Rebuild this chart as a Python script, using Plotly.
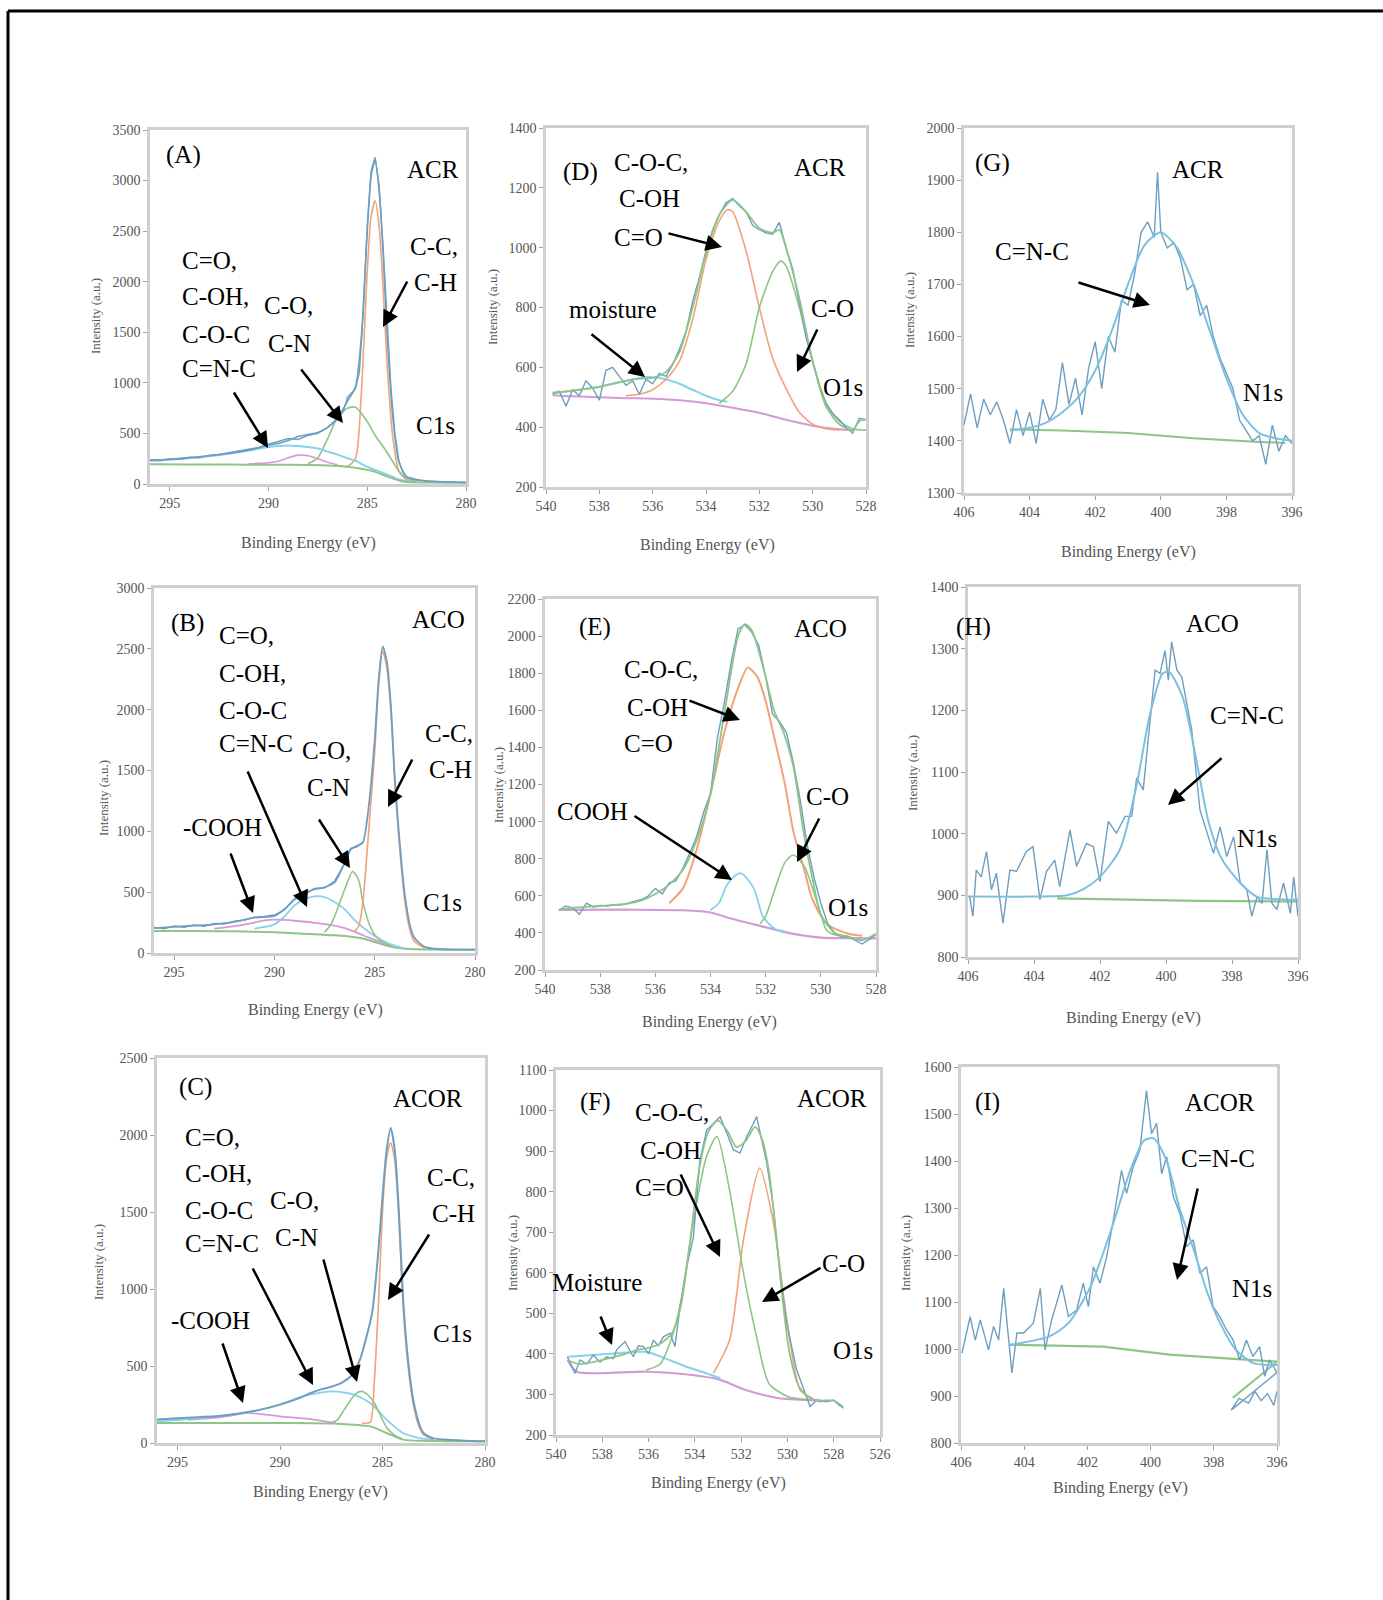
import plotly.graph_objects as go

W, H = 1383, 1600
FONT = "Liberation Serif, Times New Roman, serif"

RAW = "#6e9ec0"
ORANGE = "#f2a27a"
GREEN = "#8ec486"
CYAN = "#84d2ec"
PINK = "#d59ad6"
FITN = "#7cc0e0"

# ---------------- Panel A : C1s ACR ----------------
A_raw_x = [296, 295.5, 295, 294.5, 294, 293.5, 293, 292.5, 292, 291.5, 291, 290.5, 290, 289.5, 289, 288.5, 288,
           287.5, 287, 286.5, 286.2, 286, 285.8, 285.6, 285.4, 285.2, 285.0, 284.8, 284.6, 284.4, 284.2, 284.0,
           283.8, 283.6, 283.4, 283.2, 283.0, 282.5, 282, 281.5, 281, 280.5, 280]
A_raw_y = [240, 232, 250, 245, 265, 258, 285, 290, 310, 330, 345, 360, 395, 420, 450, 440, 480,
           500, 560, 650, 720, 860, 900, 940, 1100, 1700, 2550, 3100, 3230, 2950, 2350, 1600,
           950, 500, 230, 120, 70, 45, 30, 25, 20, 18, 15]
A_env_x = [296, 295, 294, 293, 292, 291, 290, 289.5, 289, 288.5, 288, 287.5, 287, 286.5, 286, 285.6, 285.3,
           285.0, 284.8, 284.6, 284.4, 284.2, 284.0, 283.7, 283.4, 283.0, 282.5, 282, 281, 280]
A_env_y = [235, 245, 262, 280, 305, 335, 385, 400, 430, 470, 490, 510, 560, 650, 820, 960, 1450,
           2500, 3050, 3200, 2900, 2300, 1500, 650, 220, 70, 40, 30, 20, 15]
A_cc_x = [286.5, 286, 285.6, 285.3, 285.0, 284.8, 284.6, 284.4, 284.2, 284.0, 283.7, 283.4, 283.0, 282.5]
A_cc_y = [180, 175, 250, 900, 2100, 2650, 2800, 2550, 1950, 1200, 450, 130, 40, 25]
A_co_x = [288, 287.5, 287, 286.5, 286, 285.6, 285.3, 285.0, 284.6, 284.2, 283.7, 283.4, 283.0, 282.5]
A_co_y = [200, 260, 450, 660, 750, 760, 700, 618, 480, 371, 220, 124, 60, 30]
A_cox_x = [296, 295, 294, 293, 292, 291, 290, 289.5, 289, 288.5, 288, 287.5, 287, 286.5, 286, 285.6, 285.3,
           285.0, 284.6, 284.2, 283.7, 283.4, 283.0, 282.5]
A_cox_y = [230, 240, 255, 275, 300, 330, 365, 375, 380, 375, 365, 350, 320, 290, 255, 230, 200,
           170, 140, 110, 70, 45, 30, 22]
A_pk_x = [291, 290, 289.5, 289, 288.5, 288, 287.5, 287, 286.5]
A_pk_y = [200, 210, 225, 260, 285, 280, 250, 215, 190]
A_bg_x = [296, 294, 292, 290, 288, 287, 286, 285.3, 284.6, 284.0, 283.4, 283.0, 282, 280]
A_bg_y = [195, 193, 192, 190, 188, 184, 170, 150, 120, 75, 35, 20, 15, 12]

# ---------------- Panel D : O1s ACR ----------------
D_raw_x = [539.75, 539.5, 539.25, 539.0, 538.75, 538.5, 538.25, 538.0, 537.75, 537.5, 537.25, 537.0, 536.75,
           536.5, 536.25, 536.0, 535.75, 535.5, 535.25, 535.0, 534.75, 534.5, 534.25, 534.0, 533.75, 533.5,
           533.25, 533.0, 532.75, 532.5, 532.25, 532.0, 531.75, 531.5, 531.25, 531.0, 530.75, 530.5, 530.25,
           530.0, 529.75, 529.5, 529.25, 529.0, 528.75, 528.5, 528.25, 528.0]
D_raw_y = [510, 520, 470, 525, 505, 555, 530, 490, 590, 600, 570, 540, 555,
           510, 560, 545, 580, 570, 610, 660, 720, 820, 900, 990, 1060, 1110,
           1150, 1165, 1140, 1120, 1075, 1060, 1050, 1045, 1085, 1000, 930, 820, 700,
           620, 540, 480, 445, 425, 400, 380, 430, 425]
D_env_x = [539.75, 539.5, 539, 538.5, 538, 537.5, 537, 536.5, 536, 535.5, 535, 534.5, 534, 533.5, 533,
           532.5, 532, 531.5, 531.25, 531, 530.5, 530, 529.5, 529, 528.5, 528.25, 528]
D_env_y = [515, 518, 522, 528, 535, 545, 555, 562, 565, 585, 650, 800, 980, 1110, 1160,
           1120, 1065, 1050, 1060, 1000, 830, 620, 470, 410, 390, 420, 425]
D_coc_x = [537, 536.5, 536, 535.5, 535, 534.5, 534, 533.5, 533.2, 533, 532.5, 532, 531.5, 531, 530.5, 530,
           529.5, 529]
D_coc_y = [505, 510, 525, 560, 620, 760, 960, 1090, 1127, 1120, 990, 800, 630, 530, 450, 410, 395, 390]
D_co_x = [533.5, 533, 532.5, 532, 531.5, 531.2, 531, 530.5, 530, 529.5, 529, 528.5, 528]
D_co_y = [480, 520, 610, 800, 920, 955, 940, 800, 620, 480, 420, 395, 390]
D_mo_x = [539.75, 539, 538, 537, 536.2, 535.5, 535, 534.5, 534, 533.5, 533.2]
D_mo_y = [513, 522, 535, 555, 568, 560, 545, 525, 505, 490, 485]
D_bg_x = [539.75, 539, 538, 537, 536, 535, 534, 533, 532, 531, 530, 529, 528.5]
D_bg_y = [507, 503, 500, 497, 495, 490, 480, 465, 448, 425, 405, 393, 390]

# ---------------- Panel G : N1s ACR ----------------
G_raw_x = [406.0, 405.8, 405.6, 405.4, 405.2, 405.0, 404.8, 404.6, 404.4, 404.2, 404.0, 403.8, 403.6, 403.4,
           403.2, 403.0, 402.8, 402.6, 402.4, 402.2, 402.0, 401.8, 401.6, 401.4, 401.2, 401.0, 400.8, 400.6,
           400.4, 400.2, 400.1, 400.0, 399.8, 399.6, 399.4, 399.2, 399.0, 398.8, 398.6, 398.4, 398.2, 398.0,
           397.8, 397.6, 397.4, 397.2, 397.0, 396.8, 396.6, 396.4, 396.2, 396.0]
G_raw_y = [1430, 1490, 1425, 1480, 1450, 1475, 1440, 1395, 1460, 1410, 1455, 1395, 1480, 1440,
           1460, 1550, 1470, 1520, 1450, 1540, 1590, 1500, 1600, 1570, 1670, 1660, 1720, 1800,
           1820, 1790, 1915, 1800, 1770, 1780, 1750, 1690, 1700, 1640, 1660, 1600, 1560, 1530,
           1500, 1440, 1420, 1400, 1410, 1355, 1430, 1380, 1410, 1395]
G_fit_x = [404.6, 404.0, 403.5, 403.0, 402.5, 402.0, 401.5, 401.0, 400.5, 400.0, 399.5, 399.0, 398.5, 398.0,
           397.5, 397.0, 396.5, 396.0]
G_fit_y = [1420, 1425, 1435, 1455, 1485, 1535, 1610, 1700, 1775, 1800, 1770, 1700, 1610, 1520,
           1450, 1415, 1405, 1400]
G_bg_x = [404.6, 403, 401, 399, 397, 396.2]
G_bg_y = [1422, 1420, 1415, 1405, 1398, 1396]

# ---------------- Panel B : C1s ACO ----------------
B_env_x = [296, 295, 294, 293, 292, 291, 290, 289.5, 289, 288.5, 288, 287.5, 287, 286.5, 286.2, 285.9, 285.6,
           285.3, 285.0, 284.8, 284.6, 284.4, 284.2, 284.0, 283.8, 283.5, 283.2, 283.0, 282.5, 282, 281, 280]
B_env_y = [205, 215, 225, 235, 255, 290, 305, 360, 440, 490, 525, 540, 580, 740, 850, 880, 905,
           1200, 1750, 2250, 2520, 2400, 2050, 1450, 1000, 480, 200, 120, 50, 35, 28, 27]
B_raw_x = [296, 295.5, 295, 294.5, 294, 293.5, 293, 292.5, 292, 291.5, 291, 290.5, 290, 289.5, 289, 288.5,
           288, 287.5, 287, 286.5, 286.2, 285.9, 285.6]
B_raw_y = [210, 200, 222, 212, 230, 220, 242, 238, 262, 270, 295, 300, 312, 355, 445, 480,
           530, 535, 590, 735, 860, 870, 910]
B_cc_x = [286.0, 285.8, 285.6, 285.3, 285.0, 284.8, 284.6, 284.4, 284.2, 284.0, 283.8, 283.5, 283.2, 283.0,
          282.5]
B_cc_y = [180, 220, 400, 1000, 1650, 2200, 2480, 2350, 2000, 1400, 950, 430, 160, 90, 40]
B_co_x = [287.5, 287.2, 287, 286.5, 286.1, 285.8, 285.6, 285.3, 285.0, 284.6, 284.2]
B_co_y = [170, 230, 300, 520, 670, 600, 430, 250, 150, 90, 60]
B_cox_x = [291, 290, 289.5, 289, 288.5, 288, 287.5, 287, 286.5, 286, 285.5, 285, 284.5, 284, 283.5]
B_cox_y = [200, 235, 300, 390, 440, 465, 460, 420, 360, 270, 200, 140, 95, 60, 40]
B_pk_x = [293, 292, 291, 290.5, 290, 289.5, 289, 288, 287, 286.5, 286, 285.5, 285, 284.5, 284]
B_pk_y = [200, 220, 250, 268, 275, 272, 265, 248, 225, 205, 175, 140, 110, 75, 50]
B_bg_x = [296, 294, 292, 290, 288, 287, 286, 285.5, 285, 284.5, 284, 283.5, 283, 282, 280]
B_bg_y = [180, 180, 178, 170, 155, 145, 130, 115, 90, 65, 45, 35, 30, 28, 27]

# ---------------- Panel E : O1s ACO ----------------
E_raw_x = [539.5, 539.25, 539.0, 538.75, 538.5, 538.25, 538.0, 537.75, 537.5, 537.25, 537.0, 536.75, 536.5,
           536.25, 536.0, 535.75, 535.5, 535.25, 535.0, 534.75, 534.5, 534.25, 534.0, 533.75, 533.5, 533.25,
           533.0, 532.75, 532.5, 532.25, 532.0, 531.75, 531.5, 531.25, 531.0, 530.75, 530.5, 530.25, 530.0,
           529.75, 529.5, 529.25, 529.0, 528.75, 528.5, 528.25, 528.0]
E_raw_y = [520, 545, 535, 500, 560, 540, 548, 545, 552, 550, 560, 570, 580,
           600, 640, 610, 670, 680, 750, 830, 920, 1050, 1150, 1450, 1640, 1860,
           2040, 2060, 2020, 1950, 1780, 1580, 1540, 1480, 1320, 1120, 880, 700, 560,
           450, 400, 380, 378, 360, 340, 365, 390]
E_env_x = [539.5, 539, 538, 537, 536.5, 536, 535.5, 535, 534.5, 534, 533.5, 533.0, 532.75, 532.5, 532.0,
           531.7, 531.35, 531.0, 530.6, 530.3, 530.0, 529.5, 529.0, 528.5, 528.0]
E_env_y = [524, 535, 545, 558, 575, 610, 660, 740, 900, 1150, 1580, 2000, 2065, 2030, 1780,
           1600, 1480, 1300, 920, 690, 500, 400, 380, 360, 395]
E_coc_x = [535.5, 535, 534.5, 534, 533.5, 533, 532.65, 532.3, 532, 531.7, 531.3, 531.0, 530.6, 530.3, 529.8,
           529.0, 528.5]
E_coc_y = [560, 640, 850, 1150, 1480, 1720, 1830, 1780, 1650, 1460, 1200, 950, 740, 580, 450, 395, 385]
E_co_x = [532.2, 532.0, 531.7, 531.3, 531.0, 530.6, 530.3, 530.0, 529.8, 529.5, 529]
E_co_y = [450, 490, 620, 780, 820, 760, 640, 500, 416, 390, 380]
E_cooh_x = [534.0, 533.7, 533.4, 533.1, 532.9, 532.6, 532.4, 532.1, 531.7, 531.3]
E_cooh_y = [524, 560, 660, 710, 722, 680, 630, 488, 425, 400]
E_bg_x = [539.5, 537, 535, 534, 533.3, 532.1, 531, 530, 529, 528]
E_bg_y = [524, 525, 522, 510, 479, 434, 395, 375, 372, 371]

# ---------------- Panel H : N1s ACO ----------------
H_raw_x = [405.95, 405.85, 405.75, 405.6, 405.44, 405.29, 405.14, 404.94, 404.73, 404.53, 404.23, 404.03,
           403.82, 403.62, 403.37, 403.22, 402.91, 402.71, 402.41, 402.2, 402.0, 401.75, 401.5, 401.24,
           401.04, 400.89, 400.69, 400.48, 400.33, 400.18, 400.03, 399.93, 399.83, 399.67, 399.52, 399.37,
           399.22, 398.97, 398.76, 398.56, 398.36, 398.16, 397.95, 397.75, 397.55, 397.4, 397.24, 397.09,
           396.94, 396.79, 396.64, 396.44, 396.23, 396.13, 396.0]
H_raw_y = [898, 866, 941, 930, 971, 909, 936, 855, 941, 939, 971, 979,
           893, 939, 957, 914, 1006, 947, 984, 979, 922, 1020, 1001, 1028,
           1028, 1090, 1071, 1184, 1265, 1260, 1297, 1249, 1311, 1265, 1254, 1211,
           1168, 1038, 1000, 968, 1011, 963, 995, 920, 909, 866, 898, 887,
           974, 887, 877, 920, 871, 930, 866]
H_fit_x = [406, 404, 403, 402.5, 402, 401.4, 400.9, 400.5, 400.1, 399.9, 399.5, 399.1, 398.7, 398.3, 397.75,
           397.25, 396]
H_fit_y = [898, 898, 900, 910, 930, 974, 1076, 1190, 1260, 1262, 1222, 1125, 1017, 958, 920, 898, 893]
H_bg_x = [403.3, 401, 399, 396]
H_bg_y = [895, 893, 891, 890]

# ---------------- Panel C : C1s ACOR ----------------
C_env_x = [296, 295, 294, 293, 292, 291, 290, 289, 288.5, 288, 287.5, 287, 286.5, 286.1, 285.8, 285.5, 285.2,
           285.0, 284.8, 284.6, 284.4, 284.2, 284.0, 283.8, 283.5, 283.2, 283.0, 282.5, 282, 281, 280]
C_env_y = [152, 160, 168, 176, 192, 215, 249, 295, 325, 348, 365, 390, 440, 541, 680, 850, 1250,
           1600, 1900, 2045, 1900, 1500, 950, 600, 281, 120, 65, 30, 22, 15, 11]
C_cc_x = [286, 285.6, 285.4, 285.2, 285.0, 284.8, 284.6, 284.4, 284.2, 284.0, 283.8, 283.5, 283.2, 283.0, 282.5]
C_cc_y = [130, 135, 400, 900, 1500, 1850, 1950, 1830, 1450, 900, 560, 250, 100, 55, 25]
C_co_x = [287.5, 287.2, 286.9, 286.6, 286.3, 286.0, 285.7, 285.4, 285.1, 284.8, 284.4, 284.0]
C_co_y = [130, 150, 210, 270, 320, 335, 310, 260, 180, 100, 50, 25]
C_cox_x = [296, 294, 292, 291, 290, 289.2, 288.5, 287.4, 286.4, 285.6, 284.8, 284.0, 283.2, 282.5]
C_cox_y = [140, 160, 190, 215, 250, 290, 315, 335, 314, 260, 152, 65, 32, 20]
C_pk_x = [294.5, 293.5, 292.5, 291.6, 290.0, 288.35, 287.3]
C_pk_y = [150, 160, 175, 195, 173, 152, 130]
C_bg_x = [296, 290, 287.3, 285.6, 284.8, 284.0, 282, 280]
C_bg_y = [130, 130, 126, 108, 65, 22, 12, 11]

# ---------------- Panel F : O1s ACOR ----------------
F_raw_x = [539.51, 539.32, 539.18, 538.96, 538.67, 538.39, 538.1, 537.81, 537.52, 537.38, 537.02, 536.66,
           536.44, 536.22, 536.0, 535.79, 535.58, 535.36, 535.07, 534.86, 534.64, 534.35, 534.06, 533.78,
           533.49, 533.2, 532.91, 532.62, 532.33, 532.05, 531.76, 531.47, 531.33, 531.11, 530.89, 530.61,
           530.32, 530.03, 529.6, 529.02, 528.73, 528.3, 528.01, 527.8, 527.58]
F_raw_y = [393, 370, 352, 385, 375, 397, 380, 393, 388, 410, 430, 393,
           420, 418, 400, 434, 420, 442, 451, 418, 516, 615, 689, 878,
           952, 968, 985, 944, 903, 895, 936, 968, 985, 927, 870, 763,
           599, 475, 360, 270, 286, 282, 286, 275, 266]
F_env_x = [539.5, 539, 538, 537, 536.5, 536, 535.5, 535, 534.6, 534.2, 533.8, 533.4, 533.0, 532.6, 532.2,
           531.8, 531.4, 531.1, 530.8, 530.5, 530.2, 529.9, 529.5, 529.0, 528.5, 528.0, 527.6]
F_env_y = [385, 375, 385, 400, 410, 415, 425, 450, 520, 680, 860, 950, 975, 950, 910,
           925, 960, 930, 850, 700, 530, 400, 320, 290, 285, 285, 270]
F_coc_x = [536.1, 535.5, 535.0, 534.6, 534.1, 533.5, 533.05, 532.5, 531.9, 531.3, 530.8, 530.0, 529.0]
F_coc_y = [360, 375, 440, 530, 714, 886, 936, 804, 599, 434, 327, 295, 286]
F_co_x = [533.2, 532.5, 531.9, 531.2, 530.6, 530.0, 529.45, 528.9]
F_co_y = [352, 434, 681, 858, 722, 475, 311, 290]
F_mo_x = [539.5, 537.5, 536.1, 535.3, 534.4, 533.5, 532.9]
F_mo_y = [393, 401, 405, 389, 369, 352, 340]
F_bg_x = [539.5, 539.1, 536.1, 534.1, 532.9, 531.8, 530.3, 528.9, 528.5]
F_bg_y = [385, 356, 356, 348, 336, 311, 290, 286, 282]

# ---------------- Panel I : N1s ACOR ----------------
I_raw_x = [405.97, 405.71, 405.55, 405.39, 405.13, 404.97, 404.81, 404.65, 404.49, 404.39, 404.23, 404.02,
           403.71, 403.49, 403.34, 403.13, 402.81, 402.6, 402.34, 402.13, 401.97, 401.81, 401.6, 401.39,
           401.18, 400.92, 400.76, 400.55, 400.34, 400.13, 399.97, 399.81, 399.65, 399.49, 399.28, 399.07,
           398.86, 398.65, 398.44, 398.23, 398.02, 397.81, 397.6, 397.39, 397.18, 396.97, 396.76, 396.55,
           396.39, 396.23, 396.0]
I_raw_y = [991, 1069, 1019, 1062, 998, 1048, 1019, 1129, 1019, 949, 1034, 1034,
           1055, 1129, 998, 1062, 1136, 1069, 1083, 1140, 1090, 1175, 1140, 1196,
           1274, 1380, 1331, 1388, 1423, 1550, 1458, 1480, 1373, 1409, 1324, 1288,
           1218, 1232, 1161, 1175, 1090, 1069, 1041, 1019, 977, 1019, 984, 1005,
           942, 977, 949]
I_tail_x = [396.0, 397.45, 397.2, 396.9, 396.7, 396.5, 396.3, 396.1, 396.0]
I_tail_y = [950, 870, 895, 885, 910, 890, 905, 880, 910]
I_fit_x = [404.45, 403.2, 402.6, 401.9, 401.25, 400.6, 400.2, 399.9, 399.5, 399.1, 398.6, 398.2, 397.8,
           397.3, 396.75, 396.0]
I_fit_y = [1009, 1027, 1055, 1133, 1253, 1388, 1444, 1448, 1402, 1303, 1204, 1119, 1055, 998, 970, 966]
I_bg_x = [404.45, 401.5, 399.4, 396.0]
I_bg_y = [1009, 1005, 988, 973]
I_bgtail_x = [397.4, 396.0]
I_bgtail_y = [896, 973]

# ---------------- panel layout (page pixels: left, top, right, bottom) ----------------
panels = [
    dict(box=(150, 130, 466, 484), xr=[296, 280], xt=[295, 290, 285, 280], yr=[0, 3500], dy=500),
    dict(box=(546, 128, 866, 487), xr=[540, 528], xt=[540, 538, 536, 534, 532, 530, 528], yr=[200, 1400], dy=200),
    dict(box=(964, 128, 1292, 493), xr=[406, 396], xt=[406, 404, 402, 400, 398, 396], yr=[1300, 2000], dy=100),
    dict(box=(154, 588, 475, 953), xr=[296, 280], xt=[295, 290, 285, 280], yr=[0, 3000], dy=500),
    dict(box=(545, 599, 876, 970), xr=[540, 528], xt=[540, 538, 536, 534, 532, 530, 528], yr=[200, 2200], dy=200),
    dict(box=(968, 587, 1298, 957), xr=[406, 396], xt=[406, 404, 402, 400, 398, 396], yr=[800, 1400], dy=100),
    dict(box=(157, 1058, 485, 1443), xr=[296, 280], xt=[295, 290, 285, 280], yr=[0, 2500], dy=500),
    dict(box=(556, 1070, 880, 1435), xr=[540, 526], xt=[540, 538, 536, 534, 532, 530, 528, 526], yr=[200, 1100], dy=100),
    dict(box=(961, 1067, 1277, 1443), xr=[406, 396], xt=[406, 404, 402, 400, 398, 396], yr=[800, 1600], dy=100),
]

series = [
    [(A_cc_x, A_cc_y, ORANGE, 1.6, True), (A_co_x, A_co_y, GREEN, 1.6, True), (A_pk_x, A_pk_y, PINK, 1.6, True),
     (A_cox_x, A_cox_y, CYAN, 2.0, True), (A_bg_x, A_bg_y, GREEN, 2.0, True),
     (A_env_x, A_env_y, RAW, 1.6, True), (A_raw_x, A_raw_y, RAW, 1.4, False)],
    [(D_bg_x, D_bg_y, PINK, 2.0, True), (D_mo_x, D_mo_y, CYAN, 2.0, True), (D_coc_x, D_coc_y, ORANGE, 1.6, True),
     (D_co_x, D_co_y, GREEN, 1.6, True), (D_raw_x, D_raw_y, RAW, 1.4, False), (D_env_x, D_env_y, GREEN, 1.8, True)],
    [(G_bg_x, G_bg_y, GREEN, 2.0, False), (G_raw_x, G_raw_y, RAW, 1.4, False), (G_fit_x, G_fit_y, FITN, 2.0, True)],
    [(B_bg_x, B_bg_y, GREEN, 2.0, True), (B_pk_x, B_pk_y, PINK, 1.8, True), (B_cox_x, B_cox_y, CYAN, 1.8, True),
     (B_co_x, B_co_y, GREEN, 1.6, True), (B_cc_x, B_cc_y, ORANGE, 1.6, True),
     (B_raw_x, B_raw_y, RAW, 1.4, False), (B_env_x, B_env_y, RAW, 1.8, True)],
    [(E_bg_x, E_bg_y, PINK, 2.2, True), (E_cooh_x, E_cooh_y, CYAN, 1.8, True), (E_coc_x, E_coc_y, ORANGE, 2.0, True),
     (E_co_x, E_co_y, GREEN, 1.6, True), (E_raw_x, E_raw_y, RAW, 1.4, False), (E_env_x, E_env_y, GREEN, 1.8, True)],
    [(H_bg_x, H_bg_y, GREEN, 2.2, False), (H_raw_x, H_raw_y, RAW, 1.4, False), (H_fit_x, H_fit_y, FITN, 2.0, True)],
    [(C_bg_x, C_bg_y, GREEN, 2.0, True), (C_pk_x, C_pk_y, PINK, 1.8, True), (C_cox_x, C_cox_y, CYAN, 1.8, True),
     (C_co_x, C_co_y, GREEN, 1.6, True), (C_cc_x, C_cc_y, ORANGE, 1.6, True), (C_env_x, C_env_y, RAW, 2.0, True)],
    [(F_bg_x, F_bg_y, PINK, 2.2, True), (F_mo_x, F_mo_y, CYAN, 2.0, True), (F_co_x, F_co_y, ORANGE, 1.6, True),
     (F_coc_x, F_coc_y, GREEN, 1.6, True), (F_raw_x, F_raw_y, RAW, 1.4, False), (F_env_x, F_env_y, GREEN, 1.8, True)],
    [(I_bg_x, I_bg_y, GREEN, 2.2, False), (I_bgtail_x, I_bgtail_y, GREEN, 2.0, False),
     (I_tail_x, I_tail_y, RAW, 1.4, False), (I_raw_x, I_raw_y, RAW, 1.4, False), (I_fit_x, I_fit_y, FITN, 2.0, True)],
]


def FX(x):
    return x / W


def FY(y):
    return 1 - y / H


fig = go.Figure()
layout = dict(width=W, height=H, margin=dict(l=0, r=0, t=0, b=0, autoexpand=False), plot_bgcolor="white",
              paper_bgcolor="white", showlegend=False)

tickfont = dict(family=FONT, size=14, color="#555555")
for i, (p, ser) in enumerate(zip(panels, series), start=1):
    l, t, r, b = p["box"]
    sfx = "" if i == 1 else str(i)
    layout["xaxis" + sfx] = dict(domain=[FX(l), FX(r)], range=p["xr"], anchor="y" + sfx, automargin=False,
                                 tickvals=p["xt"], ticks="outside", ticklen=4, tickcolor="#a0a0a0",
                                 showline=True, mirror=True, linecolor="#cfcfcf", linewidth=2.5,
                                 showgrid=False, zeroline=False, tickfont=tickfont)
    layout["yaxis" + sfx] = dict(domain=[FY(b), FY(t)], range=p["yr"], anchor="x" + sfx, automargin=False,
                                 dtick=p["dy"], tick0=p["yr"][0], ticks="outside", ticklen=4,
                                 tickcolor="#a0a0a0", showline=True, mirror=True, linecolor="#cfcfcf",
                                 linewidth=2.5, showgrid=False, zeroline=False, tickfont=tickfont)
    for (xs, ys, col, w, smooth) in ser:
        line = dict(color=col, width=w)
        if smooth:
            line.update(shape="spline", smoothing=0.7)
        fig.add_trace(go.Scatter(x=xs, y=ys, mode="lines", line=line, xaxis="x" + sfx, yaxis="y" + sfx,
                                 hoverinfo="skip", showlegend=False))

anns = []
LS = 25


def txt(s, x, y, size=LS, xanchor="center", color="black", angle=0):
    anns.append(dict(text=s, x=FX(x), y=FY(y), xref="paper", yref="paper", showarrow=False,
                     xanchor=xanchor, yanchor="middle", textangle=angle,
                     font=dict(family=FONT, size=size, color=color)))


def lines(items, xanchor="left"):
    for (s, x, y) in items:
        txt(s, x, y, xanchor=xanchor)


def arrow(tail, tip):
    anns.append(dict(text="", x=FX(tip[0]), y=FY(tip[1]), xref="paper", yref="paper", showarrow=True,
                     ax=tail[0] - tip[0], ay=tail[1] - tip[1], arrowhead=2, arrowsize=1.3,
                     arrowwidth=2.5, arrowcolor="black"))


xt_pos = [(308, 543), (707, 545), (1128, 552), (315, 1010), (710, 1022), (1133, 1018), (320, 1492),
          (718, 1483), (1120, 1488)]
yt_pos = [(95, 316), (492, 307), (910, 310), (103, 798), (498, 785), (912, 773), (98, 1262), (512, 1253),
          (905, 1253)]
for (x, y) in xt_pos:
    txt("Binding Energy (eV)", x, y, size=16, color="#555555")
for (x, y) in yt_pos:
    txt("Intensity (a.u.)", x, y, size=13, color="#555555", angle=-90)

# Panel A
txt("(A)", 183, 155)
txt("ACR", 433, 170)
lines([("C=O,", 180, 261), ("C-OH,", 180, 296), ("C-O-C", 180, 334), ("C=N-C", 180, 368)])
lines([("C-O,", 262, 305), ("C-N", 266, 343)])
lines([("C-C,", 408, 246), ("C-H", 412, 282)])
txt("C1s", 435, 425)
arrow((233, 391), (268, 448))
arrow((300, 368), (343, 423))
arrow((408, 280), (383, 327))
# Panel D
txt("(D)", 580, 172)
lines([("C-O-C,", 612, 162), ("C-OH", 617, 198), ("C=O", 612, 237)])
txt("ACR", 820, 167)
txt("moisture", 613, 310)
txt("C-O", 832, 308)
txt("O1s", 843, 387)
arrow((590, 333), (645, 377))
arrow((667, 233), (722, 247))
arrow((818, 328), (797, 372))
# Panel G
txt("(G)", 992, 163)
txt("ACR", 1198, 170)
txt("C=N-C", 1032, 252)
txt("N1s", 1263, 392)
arrow((1077, 282), (1150, 305))
# Panel B
txt("(B)", 187, 623)
txt("ACO", 438, 620)
lines([("C=O,", 217, 635), ("C-OH,", 217, 673), ("C-O-C", 217, 710), ("C=N-C", 217, 743)])
lines([("C-O,", 300, 750), ("C-N", 305, 787)])
lines([("C-C,", 423, 733), ("C-H", 427, 770)])
txt("-COOH", 222, 827)
txt("C1s", 442, 902)
arrow((230, 852), (253, 913))
arrow((247, 770), (307, 907))
arrow((318, 818), (350, 868))
arrow((413, 758), (388, 807))
# Panel E
txt("(E)", 595, 627)
txt("ACO", 820, 628)
lines([("C-O-C,", 622, 670), ("C-OH", 625, 707), ("C=O", 622, 743)])
txt("COOH", 592, 812)
txt("C-O", 827, 797)
txt("O1s", 848, 907)
arrow((688, 700), (740, 720))
arrow((633, 815), (732, 880))
arrow((820, 817), (797, 862))
# Panel H
txt("(H)", 973, 627)
txt("ACO", 1212, 623)
txt("C=N-C", 1247, 715)
txt("N1s", 1257, 838)
arrow((1223, 757), (1168, 805))
# Panel C
txt("(C)", 195, 1087)
txt("ACOR", 428, 1098)
lines([("C=O,", 183, 1137), ("C-OH,", 183, 1173), ("C-O-C", 183, 1210), ("C=N-C", 183, 1243)])
lines([("C-O,", 268, 1200), ("C-N", 273, 1237)])
lines([("C-C,", 425, 1177), ("C-H", 430, 1213)])
txt("-COOH", 210, 1320)
txt("C1s", 452, 1333)
arrow((222, 1342), (243, 1403))
arrow((252, 1267), (313, 1385))
arrow((323, 1258), (357, 1382))
arrow((430, 1233), (388, 1300))
# Panel F
txt("(F)", 595, 1102)
txt("ACOR", 832, 1098)
lines([("C-O-C,", 633, 1112), ("C-OH", 638, 1150), ("C=O", 633, 1187)])
txt("Moisture", 597, 1282)
txt("C-O", 843, 1263)
txt("O1s", 853, 1350)
arrow((680, 1173), (720, 1257))
arrow((600, 1315), (612, 1345))
arrow((822, 1267), (762, 1302))
# Panel I
txt("(I)", 987, 1102)
txt("ACOR", 1220, 1102)
txt("C=N-C", 1218, 1158)
txt("N1s", 1252, 1288)
arrow((1198, 1187), (1177, 1280))

layout["annotations"] = anns
layout["shapes"] = [
    dict(type="line", xref="paper", yref="paper", x0=FX(8), x1=FX(8), y0=0, y1=FY(11),
         line=dict(color="black", width=3)),
    dict(type="line", xref="paper", yref="paper", x0=FX(8), x1=1, y0=FY(11), y1=FY(11),
         line=dict(color="black", width=3)),
]
fig.update_layout(**layout)
fig.write_html("out.html",
               post_script="document.body.style.margin='0';document.body.style.overflow='hidden';")
